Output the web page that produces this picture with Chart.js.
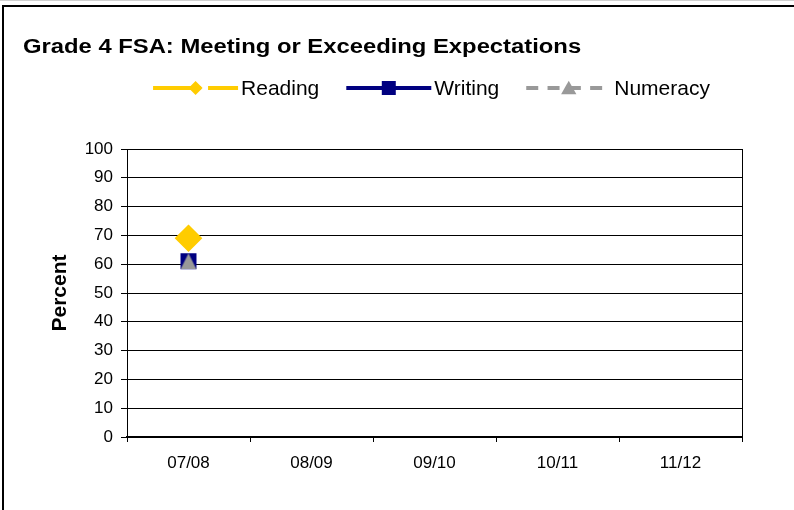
<!DOCTYPE html>
<html>
<head>
<meta charset="utf-8">
<script src="https://cdn.jsdelivr.net/npm/chart.js@4"></script>
<style>
  body { margin: 0; background: #fff; }
  #wrap { width: 794px; height: 510px; }
</style>
</head>
<body>
<div id="wrap"><canvas id="chart" width="794" height="510"></canvas></div>
<script>
const chartTitle = 'Grade 4 FSA: Meeting or Exceeding Expectations';
const years = ['07/08', '08/09', '09/10', '10/11', '11/12'];
const reading = [69, null, null, null, null];
const writing = [61, null, null, null, null];
const numeracy = [61, null, null, null, null];
const yMin = 0, yMax = 100, yStep = 10;

const FONT = '"Liberation Sans", Arial, sans-serif';

// triangle marker, centred on its bounding box like the original
function triangleImage(w, h, color) {
    const c = document.createElement('canvas');
    c.width = w; c.height = h;
    const g = c.getContext('2d');
    g.fillStyle = color;
    g.beginPath();
    g.moveTo(w / 2, 0); g.lineTo(w, h); g.lineTo(0, h);
    g.closePath();
    g.fill();
    return c;
}

// small marker painter, used for the legend samples
function drawMarker(ctx, style, x, y, r, color) {
    ctx.save();
    ctx.fillStyle = color;
    ctx.beginPath();
    if (style === 'rectRot') {
        ctx.moveTo(x - r, y); ctx.lineTo(x, y - r); ctx.lineTo(x + r, y); ctx.lineTo(x, y + r);
    } else if (style === 'rect') {
        ctx.rect(x - r, y - r, 2 * r, 2 * r);
    } else {
        ctx.moveTo(x, y - r * 0.8); ctx.lineTo(x + r * 0.85, y + r * 0.7); ctx.lineTo(x - r * 0.85, y + r * 0.7);
    }
    ctx.closePath();
    ctx.fill();
    ctx.restore();
}

const framePlugin = {
    id: 'frame',
    beforeDraw(chart) {
        const ctx = chart.ctx;
        ctx.save();
        ctx.fillStyle = '#fff';
        ctx.fillRect(0, 0, chart.width, chart.height);
        ctx.strokeStyle = '#d0d0d0';
        ctx.lineWidth = 1;
        ctx.beginPath(); ctx.moveTo(0, 0.5); ctx.lineTo(chart.width, 0.5); ctx.stroke();
        ctx.strokeStyle = '#000';
        ctx.lineWidth = 2;
        ctx.beginPath();
        ctx.moveTo(3, chart.height); ctx.lineTo(3, 6); ctx.lineTo(chart.width, 6);
        ctx.stroke();
        ctx.restore();
    },
    afterDraw(chart) {
        const ctx = chart.ctx;
        const area = chart.chartArea;
        ctx.save();
        // right edge of plot area
        ctx.strokeStyle = '#000';
        ctx.lineWidth = 1;
        ctx.beginPath();
        ctx.moveTo(Math.round(area.right) + 0.5, area.top);
        ctx.lineTo(Math.round(area.right) + 0.5, area.bottom);
        ctx.stroke();

        // title (the original type is a little wide)
        ctx.save();
        ctx.fillStyle = '#000';
        ctx.font = 'bold 20px ' + FONT;
        ctx.textBaseline = 'middle';
        ctx.textAlign = 'left';
        ctx.translate(23, 47);
        ctx.scale(1.19, 1);
        ctx.fillText(chartTitle, 0, 0);
        ctx.restore();

        // legend
        ctx.font = '21px ' + FONT;
        ctx.textBaseline = 'middle';
        ctx.textAlign = 'left';
        const sample = 85, gap = 3, itemGap = 27;
        const items = chart.data.datasets.map(ds => ({ ds, w: sample + gap + ctx.measureText(ds.label).width }));
        const total = items.reduce((s, it) => s + it.w, 0) + itemGap * (items.length - 1);
        let x = (area.left + area.right) / 2 - total / 2 - 3;
        const y = 88;
        items.forEach(it => {
            const ds = it.ds;
            ctx.strokeStyle = ds.borderColor;
            ctx.lineWidth = 4;
            ctx.setLineDash(ds.legendDash || []);
            ctx.beginPath();
            ctx.moveTo(x, y); ctx.lineTo(x + sample, y);
            ctx.stroke();
            ctx.setLineDash([]);
            drawMarker(ctx, ds.legendStyle, x + sample / 2, y, ds.legendMarker, ds.borderColor);
            ctx.fillStyle = '#000';
            ctx.fillText(ds.label, x + sample + gap, y + 1);
            x += it.w + itemGap;
        });
        ctx.restore();
    }
};

new Chart(document.getElementById('chart'), {
    type: 'line',
    data: {
        labels: years,
        datasets: [{
            label: 'Reading',
            data: reading,
            borderColor: '#FFCC00',
            backgroundColor: '#FFCC00',
            borderWidth: 4,
            legendDash: [48, 7],
            pointStyle: 'rectRot',
            legendStyle: 'rectRot',
            pointRadius: 11,
            legendMarker: 7,
            order: 2
        }, {
            label: 'Writing',
            data: writing,
            borderColor: '#000080',
            backgroundColor: '#000080',
            borderWidth: 4,
            pointStyle: 'rect',
            legendStyle: 'rect',
            pointRadius: 11.3,
            pointBorderWidth: 0,
            legendMarker: 7,
            order: 1
        }, {
            label: 'Numeracy',
            data: numeracy,
            borderColor: '#999999',
            backgroundColor: '#999999',
            borderWidth: 4,
            borderDash: [12, 9.3],
            legendDash: [12, 9.3],
            pointStyle: triangleImage(16, 16, '#999999'),
            legendStyle: 'triangle',
            pointRadius: 8,
            legendMarker: 9,
            order: 0
        }]
    },
    options: {
        responsive: false,
        animation: false,
        devicePixelRatio: 1,
        layout: { padding: { top: 149, right: 52, left: 0, bottom: 0 } },
        plugins: {
            legend: { display: false },
            title: { display: false },
            tooltip: { enabled: false }
        },
        scales: {
            x: {
                offset: true,
                grid: { offset: true, drawOnChartArea: false, drawTicks: true, tickLength: 5, color: '#000' },
                border: { color: '#000', width: 2 },
                ticks: { color: '#000', font: { family: FONT, size: 17 }, padding: 11, maxRotation: 0 },
                afterFit(scale) { scale.height = 73; }
            },
            y: {
                min: yMin,
                max: yMax,
                grid: { color: '#000', lineWidth: 1, tickLength: 6 },
                border: { color: '#000', width: 1 },
                ticks: { stepSize: yStep, color: '#000', font: { family: FONT, size: 17 }, padding: 8 },
                title: {
                    display: true,
                    text: 'Percent',
                    color: '#000',
                    font: { family: FONT, size: 21, weight: 'bold' },
                    padding: { top: 48, bottom: 0 }
                },
                afterFit(scale) { scale.width = 127; }
            }
        }
    },
    plugins: [framePlugin]
});
</script>
</body>
</html>
